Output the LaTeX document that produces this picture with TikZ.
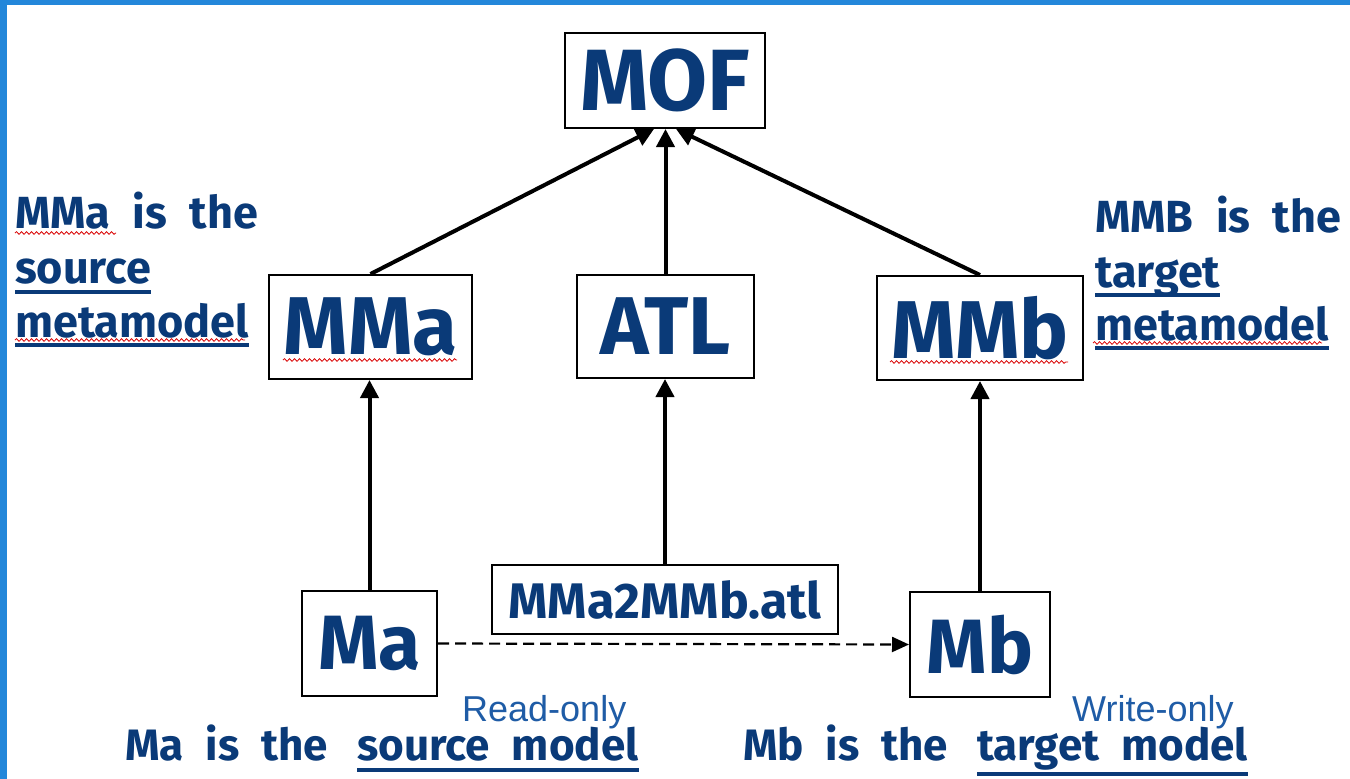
\documentclass[tikz,border=0pt]{standalone}
\usepackage{fontspec}
\setmainfont{Fira Sans}
\newfontfamily\lblfont{Fira Sans}[WordSpace=2.1]
\newfontfamily\notefont{Liberation Sans}
\usetikzlibrary{arrows.meta,decorations.pathmorphing}

\definecolor{navy}{HTML}{0A3A78}
\definecolor{frameblue}{HTML}{2387DA}
\definecolor{noteblue}{HTML}{1F5CA6}

\tikzset{
  box/.style={draw, line width=2pt, fill=white, inner sep=0pt, text=navy,
              font=\bfseries\fontsize{82}{90}\selectfont},
  arr/.style={line width=4pt, -{Triangle[length=18pt,width=18pt]}},
  dasharr/.style={line width=2.2pt, dash pattern=on 11pt off 6pt,
                  -{Triangle[length=17pt,width=15pt]}},
  lbl/.style={anchor=base west, inner sep=0pt, text=navy,
              font=\lblfont\bfseries\fontsize{45}{54}\selectfont},
  lblb/.style={anchor=base west, inner sep=0pt, text=navy,
               font=\lblfont\bfseries\fontsize{44}{52}\selectfont},
  note/.style={anchor=base west, inner sep=0pt, text=noteblue,
               font=\notefont\fontsize{36}{40}\selectfont},
  uline/.style={navy, line width=3.4pt},
  wavy/.style={red!85!black, line width=0.8pt, decorate,
               decoration={snake, amplitude=1.3pt, segment length=5pt}}
}

\begin{document}
\begin{tikzpicture}[x=1pt,y=-1pt]
  \path[use as bounding box] (0,0) rectangle (1350,779);
  \fill[white] (0,0) rectangle (1350,779);

  % frame strips
  \fill[frameblue] (0,0) rectangle (1350,5);
  \fill[frameblue] (0,0) rectangle (7,779);

  % boxes
  \node[box, minimum width=200pt, minimum height=95pt, font=\bfseries\fontsize{87}{92}\selectfont]
       (mof) at (665,80.5) {MOF};
  \node[box, minimum width=203pt, minimum height=104pt] (mma) at (370.5,327) {MMa};
  \node[box, minimum width=177pt, minimum height=103pt] (atl) at (665.5,326.5) {ATL};
  \node[box, minimum width=206pt, minimum height=104pt] (mmb) at (980,328) {MMb};
  \node[box, minimum width=346pt, minimum height=69pt, font=\bfseries\fontsize{50}{56}\selectfont]
       (trans) at (665,599.5) {MMa2MMb.atl};
  \node[box, minimum width=135pt, minimum height=105pt, font=\bfseries\fontsize{77}{84}\selectfont]
       (ma) at (369.5,643.5) {Ma};
  \node[box, minimum width=140pt, minimum height=105pt, font=\bfseries\fontsize{77}{84}\selectfont]
       (mb) at (980,644.5) {Mb};

  % conformance arrows
  \draw[arr] (mma.north) -- ([xshift=-11pt]mof.south);
  \draw[arr] (atl.north) -- ([xshift=0.5pt]mof.south);
  \draw[arr] (mmb.north) -- ([xshift=11pt]mof.south);
  \draw[arr] (ma.north) -- (mma.south -| ma.north);
  \draw[arr] (trans.north) -- (atl.south -| trans.north);
  \draw[arr] (mb.north) -- (mmb.south -| mb.north);

  % transformation
  \draw[dasharr] (ma.east) -- (mb.west);

  % side labels
  \node[lbl] (la1) at (15,228) {MMa is the};
  \node[lbl] (la2) at (15,283) {source};
  \node[lbl] (la3) at (15,337) {metamodel};
  \node[lbl] (rb1) at (1095,232) {MMB is the};
  \node[lbl] (rb2) at (1095,287) {target};
  \node[lbl] (rb3) at (1095,340) {metamodel};

  \draw[uline] ([yshift=-9pt]la2.base west) -- ([yshift=-9pt]la2.base east);
  \draw[uline] ([yshift=-8pt]la3.base west) -- ([yshift=-8pt]la3.base east);
  \draw[uline] ([yshift=-8pt]rb2.base west) -- ([yshift=-8pt]rb2.base east);
  \draw[uline] ([yshift=-8pt]rb3.base west) -- ([yshift=-8pt]rb3.base east);

  % bottom labels
  \node[lblb] (ba1) at (125,760) {Ma is the};
  \node[lblb] (ba2) at (357,760) {source model};
  \node[lblb] (bb1) at (743,760) {Mb is the};
  \node[lblb] (bb2) at (977,760) {target model};
  \draw[uline] ([yshift=-10pt]ba2.base west) -- ([yshift=-10pt]ba2.base east);
  \draw[uline] ([yshift=-14pt]bb2.base west) -- ([yshift=-14pt]bb2.base east);

  \node[note] (ro) at (462,721) {Read-only};
  \node[note] (wo) at (1072,721) {Write-only};

  % spell-check squiggles
  \draw[wavy] (15,233) -- (116,233);
  \draw[wavy] (15,340) -- (245,340);
  \draw[wavy] (1093,343) -- (1322,343);
  \draw[wavy] (283,360) -- (457,360);
  \draw[wavy] (890,362) -- (1068,362);
\end{tikzpicture}
\end{document}
